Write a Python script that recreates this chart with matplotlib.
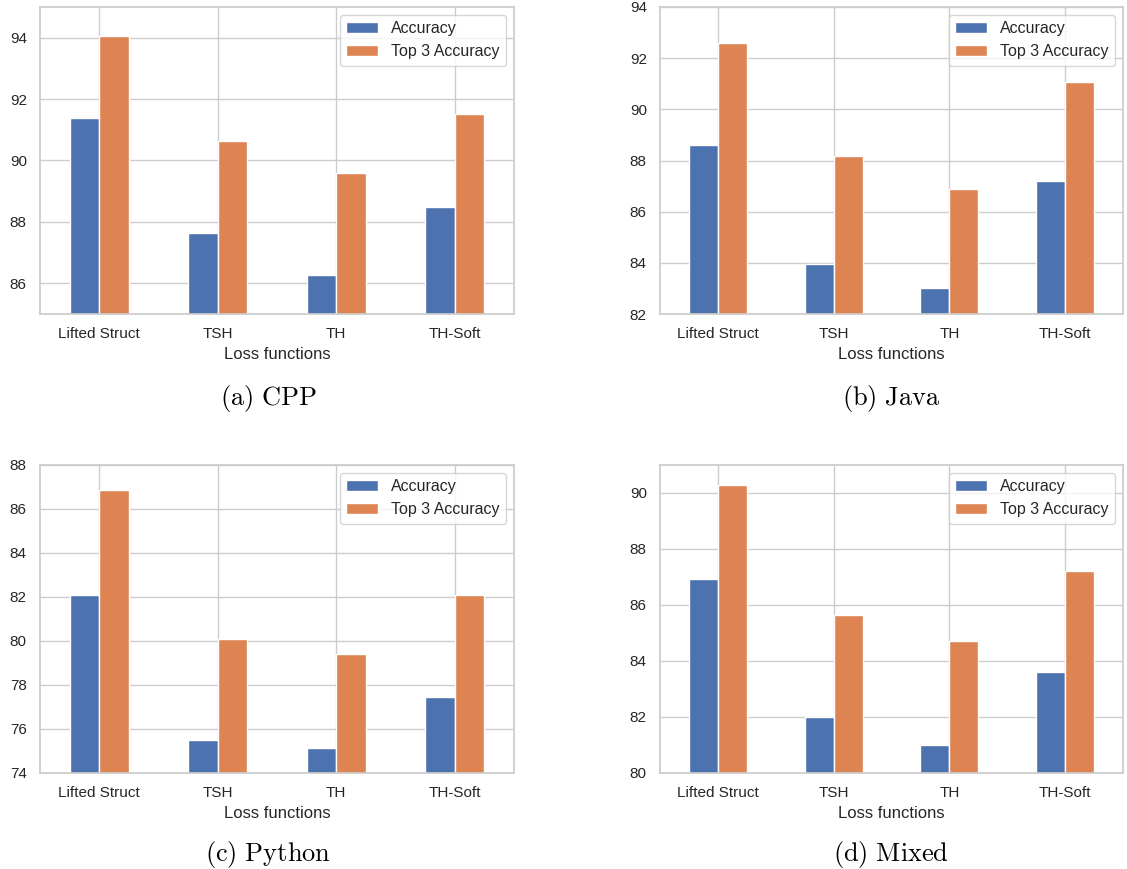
import matplotlib
matplotlib.use("Agg")
import matplotlib.pyplot as plt
import seaborn as sns
import pandas as pd

losses = ["Lifted Struct", "TSH", "TH", "TH-Soft"]

cpp_acc = [91.37, 87.64, 86.26, 88.49]
cpp_top3 = [94.05, 90.64, 89.59, 91.52]

java_acc = [88.59, 83.97, 83.00, 87.18]
java_top3 = [92.59, 88.17, 86.89, 91.05]

python_acc = [82.07, 75.49, 75.15, 77.47]
python_top3 = [86.86, 80.08, 79.40, 82.07]

mixed_acc = [86.92, 82.01, 81.01, 83.59]
mixed_top3 = [90.29, 85.66, 84.72, 87.22]

captions = ["(a)\\ CPP", "(b)\\ Java", "(c)\\ Python", "(d)\\ Mixed"]
ylims = [(85, 95), (82, 94), (74, 88), (80, 91)]

sns.set_theme(style="whitegrid")
plt.rcParams["font.family"] = ["Liberation Sans", "DejaVu Sans"]
plt.rcParams["mathtext.fontset"] = "cm"

W, H = 1127, 869
fig = plt.figure(figsize=(W / 100, H / 100), dpi=100)

# axes boxes in pixels: left, top, right, bottom
boxes = [(40, 7, 514, 314), (660, 7, 1123, 314),
         (40, 465, 514, 773), (660, 465, 1123, 773)]
caption_pos = [(268, 398), (891, 398), (268, 855), (891, 855)]

data = [(cpp_acc, cpp_top3), (java_acc, java_top3),
        (python_acc, python_top3), (mixed_acc, mixed_top3)]

for i, (acc, top3) in enumerate(data):
    l, t, r, b = boxes[i]
    ax = fig.add_axes([l / W, 1 - b / H, (r - l) / W, (b - t) / H])
    df = pd.DataFrame({"Accuracy": acc, "Top 3 Accuracy": top3}, index=losses)
    df.plot(kind="bar", ax=ax, rot=0, color=["#4C72B0", "#DD8452"],
            edgecolor="white", linewidth=1)
    ax.set_ylim(*ylims[i])
    ax.set_xlabel("Loss functions", fontsize=12, color=".15")
    ax.tick_params(labelsize=11)
    ax.legend(loc="upper right", fontsize=11.5)
    ax.set_axisbelow(True)
    cx, cy = caption_pos[i]
    fig.text(cx / W, 1 - cy / H, r"$\mathrm{" + captions[i] + "}$",
             ha="center", va="center", fontsize=19, color="black")

fig.savefig("out.png", dpi=100)
